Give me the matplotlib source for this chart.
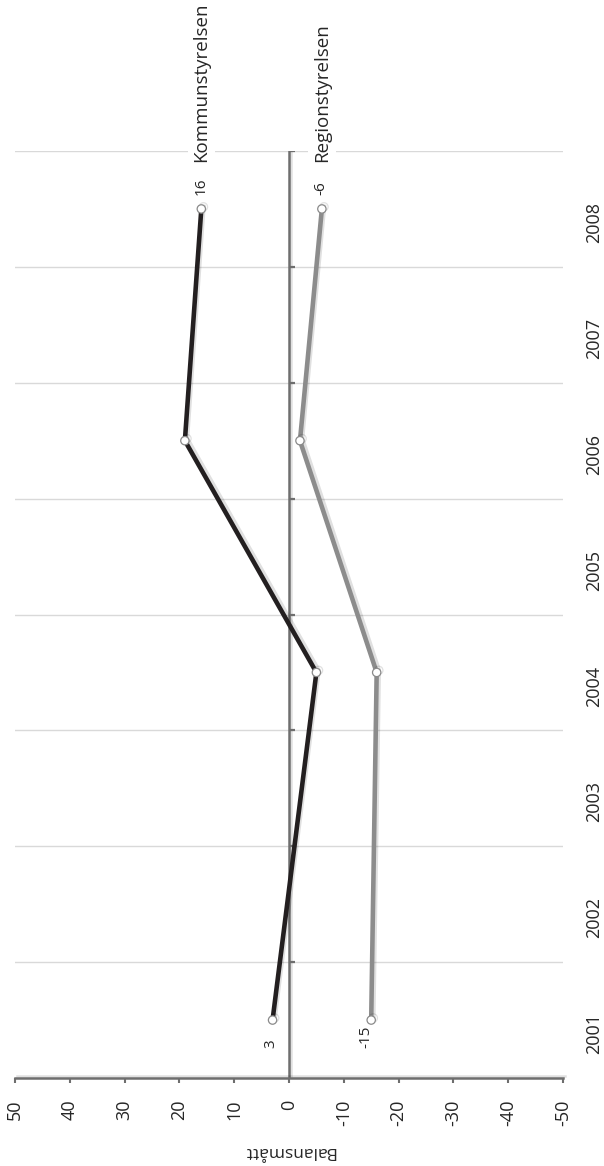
import numpy as np
import matplotlib
matplotlib.use("Agg")
import matplotlib.pyplot as plt
import matplotlib.patheffects as pe

plt.rcParams["font.family"] = ["Open Sans", "DejaVu Sans"]

# chart data (the chart is drawn turned on its side: values run right to left)
years = ["2001", "2002", "2003", "2004", "2005", "2006", "2007", "2008"]
value_ticks = [50, 40, 30, 20, 10, 0, -10, -20, -30, -40, -50]
kommun_years = ["2001", "2004", "2006", "2008"]
kommun_values = [3, -5, 19, 16]
region_years = ["2001", "2004", "2006", "2008"]
region_values = [-15, -16, -2, -6]
series_names = ["Kommunstyrelsen", "Regionstyrelsen"]
axis_title = "Balansmått"

text_col = "#262626"
axis_col = "#6e6e6e"
shadow = [pe.SimpleLineShadow(offset=(1.5, 1.5), shadow_color="#000000",
                              alpha=0.12, rho=1.0), pe.Normal()]


def year_pos(yrs):
    return [years.index(y) for y in yrs]


fig = plt.figure(figsize=(6.04, 11.66), dpi=100)
ax = fig.add_axes([15 / 604, 88 / 1166, 548 / 604, 927 / 1166])

ax.set_xlim(50, -50)
ax.set_ylim(-0.5, len(years) - 0.5)

# gridlines between the categories
bounds = np.arange(0.5, len(years), 1.0)
for b in bounds:
    ax.axhline(b, color="#d9d9d9", lw=1.0, zorder=0)

# category axis sits on value 0
ax.axvline(0, color=axis_col, lw=1.8, zorder=2, path_effects=shadow)
ax.plot(np.zeros(len(bounds)), bounds, ls="none", marker=1, ms=4,
        mew=1.6, color=axis_col, zorder=2)

for s in ["left", "right", "top"]:
    ax.spines[s].set_visible(False)
ax.spines["bottom"].set_color(axis_col)
ax.spines["bottom"].set_linewidth(1.8)
ax.spines["bottom"].set_path_effects(shadow)

ax.set_xticks(value_ticks)
ax.set_xticklabels([str(v) for v in value_ticks], rotation=90,
                   fontsize=13, color=text_col)
ax.tick_params(axis="x", direction="out", length=3.5, width=1.5,
               color=axis_col, pad=12)

ax.yaxis.tick_right()
ax.set_yticks(range(len(years)))
ax.set_yticklabels(years, rotation=90, fontsize=13, color=text_col)
ax.tick_params(axis="y", length=0, pad=16)

ax.set_xlabel(axis_title, rotation=180, fontsize=12.5, color=text_col,
              labelpad=12)

series = [
    (kommun_years, kommun_values, "#231f20"),
    (region_years, region_values, "#8c8c8c"),
]
for (yrs, vals, col) in series:
    ax.plot(vals, year_pos(yrs), color=col, lw=3.3, marker="o", ms=6,
            mfc="white", mec="#8a8a8a", mew=0.9, zorder=4,
            solid_joinstyle="miter", path_effects=shadow)

# value labels at the first and last point, names at the last point
label_kw = dict(textcoords="offset points", rotation=90, fontsize=11,
                color=text_col, ha="center", va="center")
ax.annotate(str(kommun_values[0]), (kommun_values[0], 0),
            xytext=(-1.5, -17), **label_kw)
ax.annotate(str(region_values[0]), (region_values[0], 0),
            xytext=(-4, -12), **label_kw)
ax.annotate(str(kommun_values[-1]), (kommun_values[-1], len(years) - 1),
            xytext=(0, 16), **label_kw)
ax.annotate(str(region_values[-1]), (region_values[-1], len(years) - 1),
            xytext=(-1, 15), **label_kw)

for name, vals in zip(series_names, [kommun_values, region_values]):
    ax.annotate(name, (vals[-1], len(years) - 1), xytext=(0, 34),
                textcoords="offset points", rotation=90, fontsize=13.5,
                color=text_col, ha="center", va="bottom",
                bbox=dict(boxstyle="square,pad=0.25", fc="white", ec="none"))

fig.savefig("out.png", dpi=100)
